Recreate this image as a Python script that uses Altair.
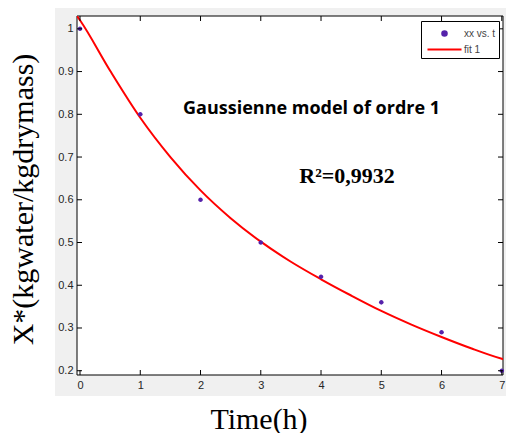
import altair as alt
import pandas as pd

# ---- data ----
t_obs = [0, 1, 2, 3, 4, 5, 6, 7]
x_obs = [1.00, 0.80, 0.60, 0.50, 0.42, 0.36, 0.29, 0.20]

t_fit = [-0.05, 0.0, 0.5, 1.0, 1.5, 2.0, 2.5, 3.0, 3.5, 4.0, 4.5, 5.0, 5.5, 6.0, 6.5, 7.0, 7.05]
x_fit = [1.03, 1.02, 0.902, 0.792, 0.70, 0.622, 0.557, 0.502, 0.455, 0.414, 0.376, 0.34, 0.308, 0.279, 0.252, 0.228, 0.226]

x_ticks = [0, 1, 2, 3, 4, 5, 6, 7]
y_ticks = [0.2, 0.3, 0.4, 0.5, 0.6, 0.7, 0.8, 0.9, 1.0]

series_names = ["xx vs. t", "fit 1"]
series_colors = ["#5522aa", "#ff0000"]

title_text = ["Gaussienne model of ordre 1"]
title_x = [1.71]
title_y = [0.80]

r2_text = ["R\u00b2=0,9932"]
r2_x = [3.64]
r2_y = [0.64]

# ---- layout ----
W, H = 426, 359
x_dom = [-0.05, 7.02]
y_dom = [0.19, 1.03]

obs = pd.DataFrame({"t": t_obs, "x": x_obs, "series": series_names[0]})
fit = pd.DataFrame({"t": t_fit, "x": x_fit, "series": series_names[1]})

xs = alt.Scale(domain=x_dom, nice=False, zero=False)
ys = alt.Scale(domain=y_dom, nice=False, zero=False)

circ = "M-0.27,0A0.27,0.27,0,1,1,0.27,0A0.27,0.27,0,1,1,-0.27,0Z"
dash = "M-2,0L2,0"

leg = alt.Legend(title=None, orient="none", legendX=344, legendY=5,
                 strokeColor="black", fillColor="white", padding=3,
                 rowPadding=0, labelFontSize=10, labelFont="Liberation Sans",
                 labelColor="#444444", labelOffset=10, symbolOffset=11,
                 symbolSize=289, symbolStrokeWidth=2)

color = alt.Color("series:N", scale=alt.Scale(domain=series_names, range=series_colors), legend=leg)
shape = alt.Shape("series:N", scale=alt.Scale(domain=series_names, range=[circ, dash]), legend=leg)

x_enc = alt.X("t:Q", scale=xs, axis=alt.Axis(
    values=x_ticks, format="d", ticks=False, domain=False, grid=False,
    labelFont="Liberation Sans", labelFontSize=11, labelColor="#262626", labelPadding=4,
    title="Time(h)", titleFont="Liberation Serif", titleFontSize=30,
    titleFontWeight="normal", titleColor="black", titleX=181.5, titleY=53,
    titleBaseline="alphabetic", titleAlign="center", zindex=1))
y_enc = alt.Y("x:Q", scale=ys, axis=alt.Axis(
    values=y_ticks, format=".1~f", ticks=False, domain=False, grid=False,
    labelFont="Liberation Sans", labelFontSize=11, labelColor="#262626", labelPadding=4,
    title="X*(kgwater/kgdrymass)", titleFont="Liberation Serif", titleFontSize=30,
    titleFontWeight="normal", titleColor="black", titleAngle=270, titleX=-53.5,
    titleY=183, titleAlign="center", titleBaseline="middle", zindex=1))

one = alt.Data(values=[{}])

grey_bg = alt.Chart(one).mark_rect(color="#f0f0f0").encode(
    x=alt.value(-22), x2=alt.value(W + 10), y=alt.value(-9), y2=alt.value(380))
frame = alt.Chart(one).mark_rect(fill="white", stroke="black", strokeWidth=1).encode(
    x=alt.value(0), x2=alt.value(W), y=alt.value(0), y2=alt.value(H))

curve = alt.Chart(fit).mark_line(strokeWidth=2, clip=True, interpolate="monotone").encode(
    x=x_enc, y=y_enc, color=color)
points = alt.Chart(obs).mark_point(filled=True, size=289, opacity=1).encode(
    x=alt.X("t:Q"), y=alt.Y("x:Q"), color=color, shape=shape)

xt = pd.DataFrame({"t": x_ticks})
yt = pd.DataFrame({"x": y_ticks})
tick_b = alt.Chart(xt).mark_rule(color="black").encode(x="t:Q", y=alt.value(H), y2=alt.value(H - 5))
tick_t = alt.Chart(xt).mark_rule(color="black").encode(x="t:Q", y=alt.value(0), y2=alt.value(5))
tick_l = alt.Chart(yt).mark_rule(color="black").encode(y="x:Q", x=alt.value(0), x2=alt.value(5))
tick_r = alt.Chart(yt).mark_rule(color="black").encode(y="x:Q", x=alt.value(W - 5), x2=alt.value(W))

ann1 = alt.Chart(pd.DataFrame({"t": title_x, "x": title_y, "txt": title_text})).mark_text(
    font="Open Sans", fontWeight="bold", fontSize=18, align="left", baseline="alphabetic",
    color="black").encode(x="t:Q", y="x:Q", text="txt:N")
ann2 = alt.Chart(pd.DataFrame({"t": r2_x, "x": r2_y, "txt": r2_text})).mark_text(
    font="Liberation Serif", fontWeight="bold", fontSize=22, align="left",
    baseline="alphabetic", color="black").encode(x="t:Q", y="x:Q", text="txt:N")

chart = alt.layer(
    grey_bg, frame, curve, points, tick_b, tick_t, tick_l, tick_r, ann1, ann2
).properties(
    width=W, height=H,
    autosize=alt.AutoSizeParams(type="none"),
    padding={"left": 69, "top": 8, "right": 3, "bottom": 58},
    background="white",
).configure_view(stroke=None)

chart.save("out.html", embed_options={"renderer": "svg", "actions": False})
